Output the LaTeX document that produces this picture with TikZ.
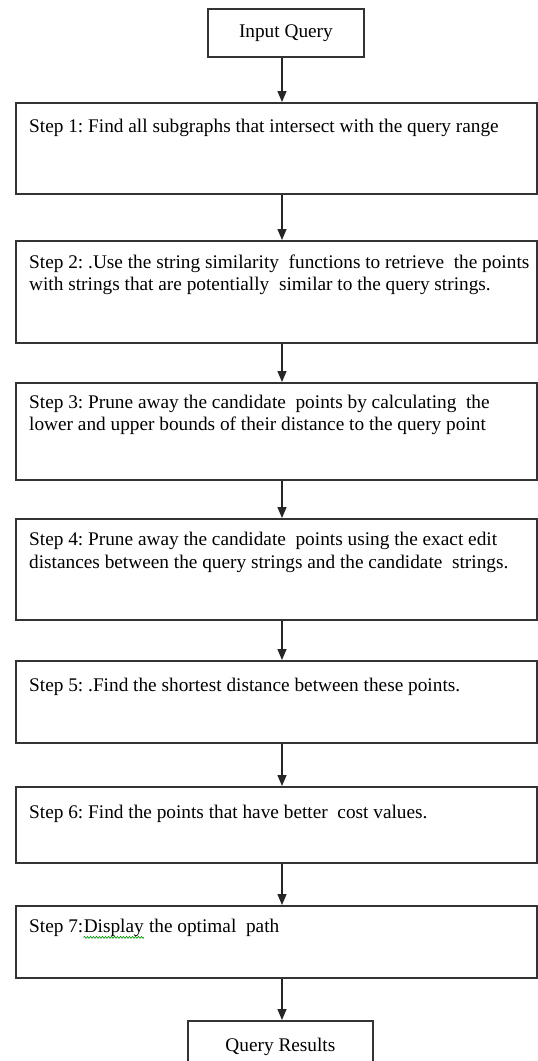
\documentclass[tikz,border=0pt]{standalone}
\usepackage{fontspec}
\setmainfont{Liberation Serif}
\usetikzlibrary{arrows.meta,decorations.pathmorphing}
\frenchspacing
\begin{document}
\begin{tikzpicture}[x=1pt,y=-1pt,
  box/.style={draw=black!80,line width=1.8pt,inner sep=0pt,anchor=north west,font=\fontsize{19.3}{21}\selectfont},
  stepbox/.style={box,minimum width=521pt},
  txt/.style={anchor=base west,inner sep=0pt,font=\fontsize{19.3}{21}\selectfont},
  flow/.style={draw=black!85,line width=1.4pt,-{Triangle[length=11pt,width=9pt]}},
  squiggle/.style={draw=green!60!black,line width=0.6pt,decorate,decoration={snake,amplitude=1pt,segment length=3pt}}]
\clip (0,0) rectangle (538,1061);
\fill[white] (0,0) rectangle (538,1061);
\coordinate (spine) at (282,0);
% boxes
\node[box,minimum width=156pt,minimum height=48pt] (iq) at (207,8) {Input Query};
\node[stepbox,minimum height=91pt] (s1) at (15,102) {};
\node[stepbox,minimum height=102pt] (s2) at (15,240) {};
\node[stepbox,minimum height=97pt] (s3) at (15,382) {};
\node[stepbox,minimum height=101pt] (s4) at (15,518) {};
\node[stepbox,minimum height=82pt] (s5) at (15,660) {};
\node[stepbox,minimum height=76pt] (s6) at (15,786) {};
\node[stepbox,minimum height=72pt] (s7) at (15,905) {};
\node[box,minimum width=185pt,minimum height=51pt] (qr) at (187,1020) {Query Results};
% texts
\node[txt] (t1) at (29,132) {Step 1: Find all subgraphs that intersect with the query range};
\node[txt] (t2a) at (29,268) {Step 2: .Use the string similarity\ \ functions to retrieve\ \ the points};
\node[txt] (t2b) at (29,290) {with strings that are potentially\ \ similar to the query strings.};
\node[txt] (t3a) at (29,408) {Step 3: Prune away the candidate\ \ points by calculating\ \ the};
\node[txt] (t3b) at (29,430) {lower and upper bounds of their distance to the query point};
\node[txt] (t4a) at (29,545) {Step 4: Prune away the candidate\ \ points using the exact edit};
\node[txt] (t4b) at (29,568) {distances between the query strings and the candidate\ \ strings.};
\node[txt] (t5) at (29,691) {Step 5: .Find the shortest distance between these points.};
\node[txt] (t6) at (29,818) {Step 6: Find the points that have better\ \ cost values.};
\node[txt] (t7a) at (29,932) {Step 7:};
\node[txt] (t7b) at (t7a.base east) {Display};
\node[txt] (t7c) at (t7b.base east) {\ the optimal\ \ path};
\draw[squiggle] ([yshift=-1pt]t7b.south west) -- ([yshift=-1pt]t7b.south east);
% connectors
\draw[flow] (iq.south -| spine) -- (s1.north -| spine);
\draw[flow] (s1.south -| spine) -- (s2.north -| spine);
\draw[flow] (s2.south -| spine) -- (s3.north -| spine);
\draw[flow] (s3.south -| spine) -- (s4.north -| spine);
\draw[flow] (s4.south -| spine) -- (s5.north -| spine);
\draw[flow] (s5.south -| spine) -- (s6.north -| spine);
\draw[flow] (s6.south -| spine) -- (s7.north -| spine);
\draw[flow] (s7.south -| spine) -- (qr.north -| spine);
\end{tikzpicture}
\end{document}
